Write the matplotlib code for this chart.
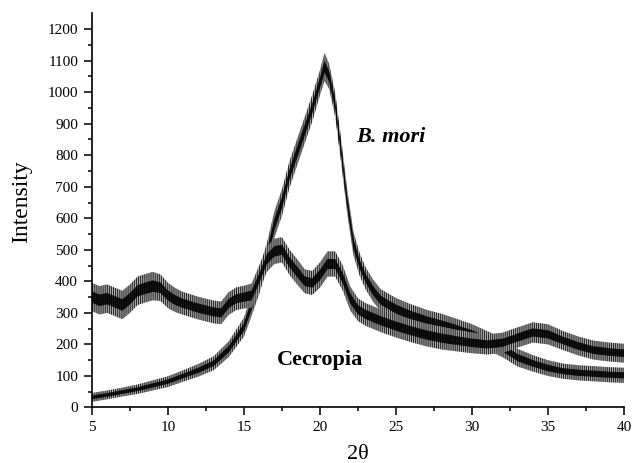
import numpy as np
import matplotlib
matplotlib.use("Agg")
import matplotlib.pyplot as plt

plt.rcParams['font.family'] = ['Liberation Serif', 'DejaVu Serif']
plt.rcParams['hatch.linewidth'] = 0.8

# B. mori trace: centre line and band half-widths
bmori_x = [5, 6, 7, 8, 9, 10, 11, 12, 13, 14, 15, 15.5, 16, 16.5, 17, 17.5, 18, 18.5,
           19, 19.5, 20, 20.3, 20.6, 21, 21.4, 21.8, 22.2, 22.6, 23, 23.5, 24, 25, 26,
           27, 28, 29, 30, 31, 32, 33, 34, 35, 36, 37, 38, 39, 40]
bmori_y = [32, 40, 49, 58, 70, 82, 100, 118, 140, 185, 255, 325, 400, 480, 580, 650, 740, 810,
           880, 950, 1030, 1080, 1050, 960, 810, 650, 520, 455, 410, 370, 340, 312, 292,
           275, 262, 248, 232, 212, 190, 158, 140, 125, 115, 110, 107, 104, 102]
bmori_spread = [14, 14, 14, 15, 16, 17, 18, 20, 22, 25, 30, 35, 40, 40, 42, 42, 42, 42,
                42, 42, 40, 45, 40, 38, 38, 38, 38, 36, 35, 35, 35, 35, 35,
                35, 35, 33, 32, 30, 30, 28, 26, 25, 24, 24, 24, 24, 24]

# Cecropia trace
cec_x = [5, 5.5, 6, 6.5, 7, 7.5, 8, 8.5, 9, 9.5, 10, 10.5, 11, 12, 13, 13.5, 14, 14.5, 15,
         15.5, 16, 16.5, 17, 17.5, 18, 18.5, 19, 19.5, 20, 20.5, 21, 21.5, 22, 22.5, 23,
         24, 25, 26, 27, 28, 29, 30, 31, 32, 33, 34, 35, 36, 37, 38, 39, 40]
cec_y = [350, 340, 345, 335, 325, 345, 370, 378, 385, 380, 355, 340, 330, 315, 303, 300, 330, 345, 350,
         355, 410, 470, 495, 500, 460, 430, 400, 395, 420, 455, 455, 410, 345, 310, 295,
         275, 258, 243, 230, 220, 212, 205, 200, 205, 222, 238, 232, 212, 195, 182, 176, 172]
cec_spread = [45, 45, 45, 45, 45, 45, 45, 45, 45, 42, 40, 38, 36, 36, 36, 36, 36, 36, 36,
              38, 40, 40, 40, 40, 40, 40, 38, 38, 40, 40, 40, 40, 38, 36, 36,
              36, 36, 36, 36, 36, 34, 33, 32, 32, 32, 32, 32, 30, 30, 30, 30, 30]

fig = plt.figure(figsize=(6.33, 4.63), dpi=100)
ax = fig.add_axes([0.1453, 0.1199, 0.8405, 0.8514])

for xs, ys, sp in [(bmori_x, bmori_y, bmori_spread), (cec_x, cec_y, cec_spread)]:
    xs = np.array(xs)
    ys = np.array(ys)
    sp = np.array(sp)
    ax.fill_between(xs, ys - sp, ys + sp, facecolor='0.72', edgecolor='0.15',
                    hatch='||||||||', lw=0)
    ax.fill_between(xs, ys - 0.4 * sp, ys + 0.4 * sp, facecolor='0.1', edgecolor='black',
                    hatch='||||||||', lw=0)

ax.text(22.4, 857, 'B. mori', fontsize=16, fontweight='bold', fontstyle='italic',
        va='center', ha='left')
ax.text(20.0, 150, 'Cecropia', fontsize=16, fontweight='bold', va='center', ha='center')

ax.set_xlim(5, 40)
ax.set_ylim(0, 1250)
ax.set_xticks(np.arange(5, 41, 5))
ax.set_xticks(np.arange(5, 40.1, 2.5), minor=True)
ax.set_yticks(np.arange(0, 1201, 100))
ax.set_yticks(np.arange(0, 1250, 50), minor=True)

for s in ['top', 'right']:
    ax.spines[s].set_visible(False)
for s in ['left', 'bottom']:
    ax.spines[s].set_linewidth(1.2)

ax.tick_params(which='major', direction='out', length=6, width=1.1, labelsize=11, pad=4)
ax.tick_params(which='minor', direction='out', length=3, width=1.1)

ax.set_xlabel('2θ', fontsize=16, labelpad=8)
ax.set_ylabel('Intensity', fontsize=17)
ax.yaxis.set_label_coords(-0.113, 0.5215)

fig.savefig('out.png', dpi=100)
